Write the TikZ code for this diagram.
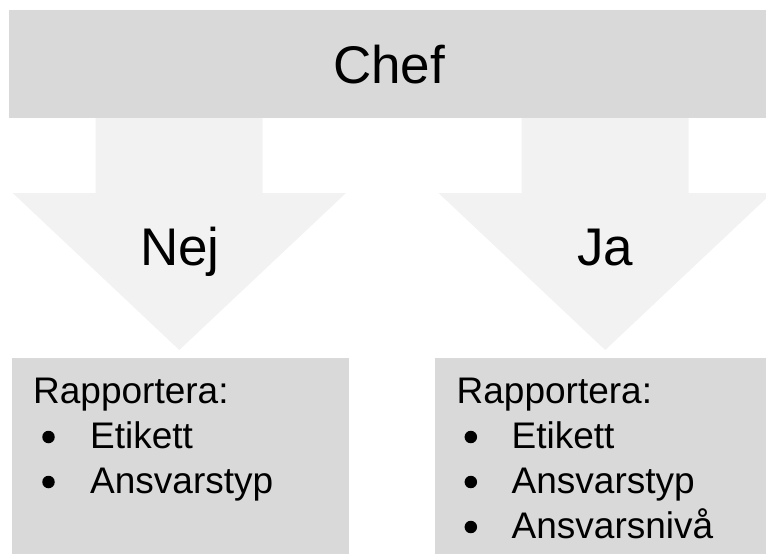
\documentclass[tikz,border=0pt]{standalone}
\usepackage{fontspec}
\setmainfont{Liberation Sans}
\usetikzlibrary{positioning}

\definecolor{barfill}{HTML}{D9D9D9}
\definecolor{flowfill}{HTML}{F2F2F2}

\tikzset{
  bar/.style={fill=barfill, draw=none, inner sep=0pt},
  flow/.style={fill=flowfill, draw=none},
  big/.style={font=\fontsize{53}{60}\selectfont, inner sep=0pt, anchor=base},
  item/.style={font=\fontsize{37}{45}\selectfont, inner sep=0pt, anchor=base west},
  dot/.style={circle, fill=black, inner sep=0pt, minimum size=12.5},
}

\begin{document}
\begin{tikzpicture}[x=1pt, y=-1pt]
  \useasboundingbox (0,0) rectangle (766,554);
  \clip (0,0) rectangle (766,554);

  % Top bar
  \node[bar, minimum width=757, minimum height=108, anchor=north west] (chef) at (9,10) {};
  \node[big] (cheflabel) at (389,83) {Chef};

  % Down arrows
  \fill[flow] (95.7,118) -- (262.7,118) -- (262.7,193) -- (346,193)
    -- (179.3,350) -- (12.7,193) -- (95.7,193) -- cycle;
  \fill[flow] (521.7,118) -- (688.7,118) -- (688.7,193) -- (771.9,193)
    -- (605.2,350) -- (438.5,193) -- (521.7,193) -- cycle;
  \node[big] (nej) at (180,265) {Nej};
  \node[big] (ja) at (605,265) {Ja};

  % Result boxes
  \node[bar, minimum width=337, minimum height=197, anchor=north west] (nejbox) at (12,357.5) {};
  \node[bar, minimum width=331, minimum height=197, anchor=north west] (jabox) at (435,357.5) {};

  % Lists
  \node[item] (nejhead) at (33,403) {Rapportera:};
  \foreach \txt [count=\i] in {Etikett, Ansvarstyp} {
    \node[dot] (nejdot-\i) at (48.5,392+45*\i) {};
    \node[item] (nejitem-\i) at (90,403+45*\i) {\txt};
  }
  \node[item] (jahead) at (456.5,403) {Rapportera:};
  \foreach \txt [count=\i] in {Etikett, Ansvarstyp, Ansvarsnivå} {
    \node[dot] (jadot-\i) at (470.8,392+45*\i) {};
    \node[item] (jaitem-\i) at (511.5,403+45*\i) {\txt};
  }
\end{tikzpicture}
\end{document}
